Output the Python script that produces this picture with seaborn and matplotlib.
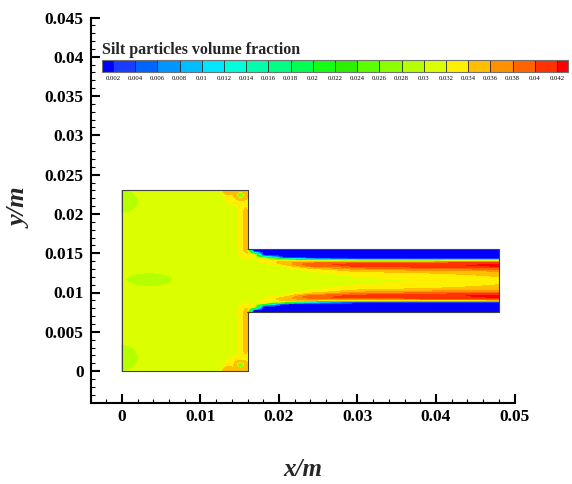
import numpy as np
import matplotlib
matplotlib.use("Agg")
import matplotlib.pyplot as plt
import seaborn as sns
from matplotlib.colors import ListedColormap, BoundaryNorm
from matplotlib.ticker import MultipleLocator

# ---------------- data ----------------
# contour levels / colour bar
level_values = [0.002, 0.004, 0.006, 0.008, 0.010, 0.012, 0.014, 0.016, 0.018, 0.020, 0.022,
                0.024, 0.026, 0.028, 0.030, 0.032, 0.034, 0.036, 0.038, 0.040, 0.042]
level_labels = ["0.002", "0.004", "0.006", "0.008", "0.01", "0.012", "0.014", "0.016", "0.018",
                "0.02", "0.022", "0.024", "0.026", "0.028", "0.03", "0.032", "0.034", "0.036",
                "0.038", "0.04", "0.042"]
level_colors = ["#0000ff", "#1a3cff", "#0064ff", "#0096ff", "#00beff", "#00e6ff", "#00ffdc",
                "#00ffaa", "#00ff82", "#00ff50", "#14ff14", "#2cf000", "#5aff00", "#8cff00",
                "#b4ff00", "#dcff00", "#fff000", "#ffbe00", "#ff9100", "#ff6400", "#ff3200",
                "#ff0000"]

# axes ticks
x_ticks = [0.0, 0.01, 0.02, 0.03, 0.04, 0.05]
x_labels = ["0", "0.01", "0.02", "0.03", "0.04", "0.05"]
y_ticks = [0.0, 0.005, 0.01, 0.015, 0.02, 0.025, 0.03, 0.035, 0.04, 0.045]
y_labels = ["0", "0.005", "0.01", "0.015", "0.02", "0.025", "0.03", "0.035", "0.04", "0.045"]

# geometry (m)
box_x = [0.0, 0.016]
box_y = [0.0, 0.023]
chan_x = [0.016, 0.048]
chan_y = [0.0075, 0.0155]
outline_x = [0.016, 0.0, 0.0, 0.016, 0.016, 0.048, 0.048, 0.016, 0.016]
outline_y = [0.023, 0.023, 0.0, 0.0, 0.0075, 0.0075, 0.0155, 0.0155, 0.023]

# channel: volume fraction vs distance from the nearest channel wall, at several x stations
chan_d = [0.0000, 0.0001, 0.0003, 0.0005, 0.0007, 0.0009, 0.0011, 0.0013,
          0.0015, 0.0017, 0.0019, 0.0021, 0.0023, 0.0026, 0.0030, 0.0040]
chan_stations = [0.0160, 0.0168, 0.0180, 0.0205, 0.0240, 0.0300, 0.0384, 0.0480]
p0160 = [0.0010, 0.0260, 0.0352, 0.0340, 0.0325, 0.0318, 0.0312, 0.0310, 0.0310, 0.0310, 0.0310, 0.0310, 0.0310, 0.0310, 0.0310, 0.0310]
p0168 = [0.0000, 0.0003, 0.0012, 0.0180, 0.0335, 0.0330, 0.0315, 0.0310, 0.0310, 0.0310, 0.0310, 0.0310, 0.0310, 0.0310, 0.0310, 0.0310]
p0180 = [0.0000, 0.0000, 0.0002, 0.0005, 0.0012, 0.0080, 0.0300, 0.0338, 0.0330, 0.0318, 0.0311, 0.0310, 0.0310, 0.0310, 0.0310, 0.0310]
p0205 = [0.0000, 0.0000, 0.0000, 0.0001, 0.0003, 0.0008, 0.0030, 0.0260, 0.0340, 0.0352, 0.0340, 0.0322, 0.0313, 0.0310, 0.0310, 0.0310]
p0240 = [0.0000, 0.0000, 0.0000, 0.0000, 0.0002, 0.0005, 0.0012, 0.0120, 0.0335, 0.0375, 0.0395, 0.0385, 0.0350, 0.0325, 0.0314, 0.0310]
p0300 = [0.0000, 0.0000, 0.0000, 0.0000, 0.0001, 0.0003, 0.0008, 0.0035, 0.0300, 0.0380, 0.0406, 0.0406, 0.0388, 0.0355, 0.0328, 0.0311]
p0384 = [0.0000, 0.0000, 0.0000, 0.0000, 0.0001, 0.0003, 0.0008, 0.0030, 0.0310, 0.0392, 0.0414, 0.0416, 0.0398, 0.0365, 0.0340, 0.0321]
p0480 = [0.0000, 0.0000, 0.0000, 0.0000, 0.0001, 0.0003, 0.0008, 0.0030, 0.0325, 0.0402, 0.0421, 0.0423, 0.0408, 0.0372, 0.0345, 0.0335]

# box (settling chamber): background value, layer along the step faces, local patches
box_base = 0.031
wall_r = [0.0000, 0.0001, 0.0003, 0.0005, 0.0008, 0.0012, 0.0015]
wall_vals = [0.0330, 0.0352, 0.0352, 0.0338, 0.0325, 0.0321, 0.0310]
spot_cx = [0.0000, 0.0035, 0.0000, 0.0160, 0.0152, 0.0137, 0.0151, 0.0160, 0.0152, 0.0136, 0.0151]
spot_cy = [0.0216, 0.01165, 0.0017, 0.0230, 0.0225, 0.0230, 0.0224, 0.0000, 0.0006, 0.0000, 0.0008]
spot_rx = [0.0024, 0.0034, 0.0024, 0.0038, 0.0011, 0.0009, 0.00055, 0.0038, 0.0011, 0.0009, 0.00055]
spot_ry = [0.0017, 0.00097, 0.0019, 0.0026, 0.0009, 0.00065, 0.00045, 0.0026, 0.0009, 0.00065, 0.00045]
spot_val = [0.0288, 0.0288, 0.0288, 0.0328, 0.0355, 0.0360, 0.0270, 0.0328, 0.0355, 0.0360, 0.0270]

# ---------------- fields ----------------
# box field
bx = np.linspace(box_x[0], box_x[1], 321)
by = np.linspace(box_y[0], box_y[1], 461)
BX, BY = np.meshgrid(bx, by)
dy1 = np.clip(chan_y[1] - BY, 0, None)
dy2 = np.clip(BY - chan_y[0], 0, None)
r_face = np.minimum(np.hypot(box_x[1] - BX, dy1), np.hypot(box_x[1] - BX, dy2))
FB = np.interp(r_face, wall_r, wall_vals, right=box_base)
for cx_, cy_, rx_, ry_, v_ in zip(spot_cx, spot_cy, spot_rx, spot_ry, spot_val):
    rho2 = ((BX - cx_) / rx_) ** 2 + ((BY - cy_) / ry_) ** 2
    w = np.clip(2.0 * (1.0 - rho2), 0.0, 1.0)
    FB = FB + w * (v_ - FB)

# channel field
cxg = np.linspace(chan_x[0], chan_x[1], 641)
cyg = np.linspace(chan_y[0], chan_y[1], 161)
CX, CY = np.meshgrid(cxg, cyg)
half = 0.5 * (chan_y[1] - chan_y[0])
mid = 0.5 * (chan_y[1] + chan_y[0])
d_row = half - np.abs(cyg - mid)
profiles = [p0160, p0168, p0180, p0205, p0240, p0300, p0384, p0480]
P = np.array([np.interp(d_row, chan_d, p) for p in profiles])  # (stations, ny)
FC = np.empty_like(CX)
for j in range(len(cyg)):
    FC[j, :] = np.interp(cxg, chan_stations, P[:, j])

# ---------------- style ----------------
sns.set_style("ticks")
plt.rcParams["font.family"] = ["Liberation Serif", "DejaVu Serif"]
plt.rcParams["axes.edgecolor"] = "black"
plt.rcParams["xtick.color"] = "black"
plt.rcParams["ytick.color"] = "black"

cmap = ListedColormap(level_colors)
norm = BoundaryNorm(level_values, ncolors=len(level_colors), extend="both")

fig = plt.figure(figsize=(5.72, 4.84), dpi=100)
W, H = 572.0, 484.0
ax = fig.add_axes([90.5 / W, 1 - 402.5 / H, 424.0 / W, 385.0 / H])

cs = ax.contourf(BX, BY, FB, levels=level_values, cmap=cmap, norm=norm, extend="both")
ax.contourf(CX, CY, FC, levels=level_values, cmap=cmap, norm=norm, extend="both")
ax.plot(outline_x, outline_y, color="#404040", lw=0.8)

ax.set_xlim(-0.004, 0.05)
ax.set_ylim(-0.004, 0.045)
ax.set_xticks(x_ticks)
ax.set_xticklabels(x_labels)
ax.set_yticks(y_ticks)
ax.set_yticklabels(y_labels)
ax.xaxis.set_minor_locator(MultipleLocator(0.002))
ax.yaxis.set_minor_locator(MultipleLocator(0.001))
for s in ["top", "right"]:
    ax.spines[s].set_visible(False)
for s in ["left", "bottom"]:
    ax.spines[s].set_linewidth(1.5)
ax.tick_params(which="major", direction="in", length=6.5, width=1.5,
               labelsize=12.5, pad=5)
ax.tick_params(which="minor", direction="in", length=3.2, width=0.8)
for lab in ax.get_xticklabels() + ax.get_yticklabels():
    lab.set_fontweight("bold")

ax.set_xlabel("x/m", fontsize=18, fontweight="bold", fontstyle="italic", va="center")
ax.xaxis.set_label_coords(0.501, -0.173)
ax.set_ylabel("y/m", fontsize=19, fontweight="bold", fontstyle="italic", va="center")
ax.yaxis.set_label_coords(-0.166, 0.505)

# colour bar
cax = fig.add_axes([102.0 / W, 1 - 72.0 / H, 466.0 / W, 12.0 / H])
cb = fig.colorbar(cs, cax=cax, orientation="horizontal", ticks=level_values,
                  extendrect=True, extendfrac=0.025, drawedges=True)
cb.ax.set_xticklabels(level_labels)
cb.ax.tick_params(length=0, pad=3, labelsize=4.8)
cb.outline.set_edgecolor("#707070")
cb.outline.set_linewidth(0.8)
cb.dividers.set_color("#202020")
cb.dividers.set_linewidth(0.6)
fig.text(101.7 / W, 1 - 54.5 / H, "Silt particles volume fraction", fontsize=11.5,
         fontweight="bold", va="baseline", ha="left")

fig.savefig("out.png", dpi=100)
